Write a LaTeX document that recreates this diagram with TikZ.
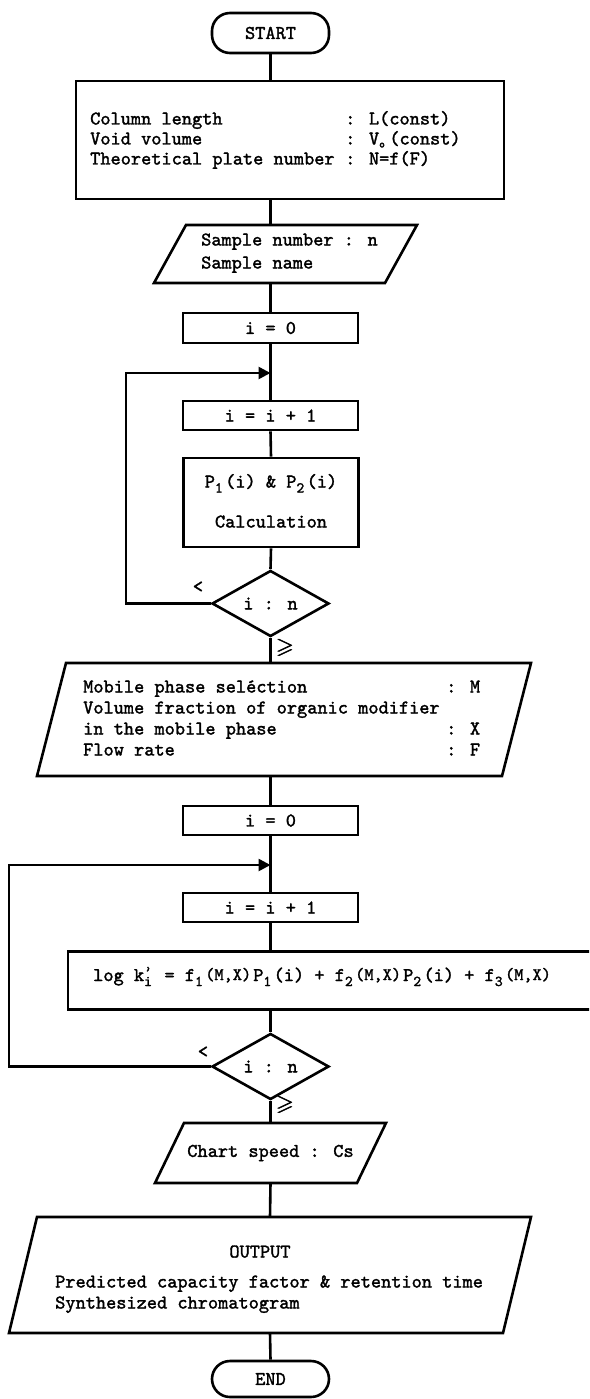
\documentclass[tikz,border=0pt]{standalone}
\usepackage{amssymb}
\usepackage{fontspec}
\newfontfamily\cour{lmmono10-regular}[Extension=.otf, FakeBold=1.6]
\usetikzlibrary{shapes.geometric,arrows.meta}
\newcommand\fsz{\cour\fontsize{19.4}{23}\selectfont}
\newcommand\sbs[1]{\makebox[10.2pt][l]{\raisebox{-5pt}{\fontsize{15}{15}\selectfont #1}}}
\newcommand\smp[1]{\makebox[48pt][l]{\fontsize{17.5}{15}\selectfont\raisebox{1pt}{#1}}}
\newcommand\kpi{\makebox[10.2pt][l]{\rlap{\raisebox{5pt}{\fontsize{15}{15}\selectfont ’}}\raisebox{-5pt}{\fontsize{15}{15}\selectfont i}}}
\newcommand\Vo{V\makebox[10.2pt][l]{\raisebox{-3pt}{\fontsize{11}{11}\selectfont o}}}
\newcommand\gs{\scalebox{1.15}{\rlap{$\geqslant$}\hspace{0.6pt}\rlap{$\geqslant$}\hspace{0.6pt}$\geqslant$}}
\newcommand\paral[2]{\draw[shp] ([xshift=#2]#1.north west) -- (#1.north east) -- ([xshift=-#2]#1.south east) -- (#1.south west) -- cycle;}
\tikzset{
  shp/.style={draw, line width=2.6pt, line join=miter},
  boxn/.style={draw, line width=2.6pt, rectangle, inner sep=0pt, font=\fsz},
  term/.style={boxn, rounded corners=18pt},
  dec/.style={draw, line width=2.6pt, diamond, inner sep=0pt, font=\fsz},
  frame/.style={inner sep=0pt, outer sep=0pt, draw=none, rectangle, font=\fsz},
  txt/.style={inner sep=0pt, anchor=base west, font=\fsz},
  ctxt/.style={inner sep=0pt, anchor=base, font=\fsz},
  lab/.style={inner sep=0pt, font=\fsz},
  conn/.style={line width=2.6pt},
  loopar/.style={line width=2.6pt, line join=miter, -{Triangle[length=12pt,width=12pt]}}
}
\begin{document}
\begin{tikzpicture}[x=1pt,y=-1pt]
\useasboundingbox (0,0) rectangle (589,1399);
\clip (0,0) rectangle (589,1399);
\fill[white] (0,0) rectangle (589,1399);

% START
\node[term, minimum width=117pt, minimum height=40pt] (start) at (270.5,33) {START};

% parameters box
\node[boxn, minimum width=428pt, minimum height=118pt] (b1) at (290,140) {};
\node[txt] (t1a) at (90,124.5) {Column length};
\node[txt] (t1b) at (345,124.5) {: L(const)};
\node[txt] (t2a) at (90,144.5) {Void volume};
\node[txt] (t2b) at (345,144.5) {: \Vo(const)};
\node[txt] (t3a) at (90,164.5) {Theoretical plate number};
\node[txt] (t3b) at (345,164.5) {: N=f(F)};

% sample input
\node[frame, minimum width=263pt, minimum height=58pt] (p1) at (285.5,254) {};
\paral{p1}{32pt}
\node[txt] (s1) at (201,245.5) {Sample number : n};
\node[txt] (s2) at (201,268.5) {Sample name};

% first loop
\node[boxn, minimum width=175pt, minimum height=30pt] (i0a) at (270.5,328) {i = 0};
\node[boxn, minimum width=175pt, minimum height=29pt] (inc1) at (270.5,415.5) {i = i + 1};
\node[boxn, minimum width=175pt, minimum height=89pt] (pc) at (271,502.5) {};
\node[ctxt] (pc1) at (271,487.5) {P\sbs{1}(i) \& P\sbs{2}(i)};
\node[ctxt] (pc2) at (271,527.5) {Calculation};
\node[dec, minimum width=117pt, minimum height=58pt] (d1) at (270.5,603.5) {i : n};
\node[lab] (lt1) at (198,587) {<};
\node[lab] (ge1) at (285,648) {\gs};
\coordinate (m1) at (270.5,373);
\coordinate (c1) at (126,373);

% mobile phase input
\node[frame, minimum width=494pt, minimum height=113pt] (mob) at (284,719.5) {};
\paral{mob}{29pt}
\node[txt] (m1a) at (83,692.5) {Mobile phase seléction};
\node[txt] (m1b) at (446,692.5) {: M};
\node[txt] (m2a) at (83,713.5) {Volume fraction of organic modifier};
\node[txt] (m3a) at (83,734.5) {in the mobile phase};
\node[txt] (m3b) at (446,734.5) {: X};
\node[txt] (m4a) at (83,755.5) {Flow rate};
\node[txt] (m4b) at (446,755.5) {: F};

% second loop
\node[boxn, minimum width=175pt, minimum height=29pt] (i0b) at (270.5,820.5) {i = 0};
\node[boxn, minimum width=175pt, minimum height=29pt] (inc2) at (270.5,907.5) {i = i + 1};
\node[boxn, minimum width=532pt, minimum height=58pt] (lg) at (334,980.5) {};
\node[txt] (lgt) at (93,981) {log k\kpi{} = f\sbs{1}\smp{(M,X)}P\sbs{1}(i) + f\sbs{2}\smp{(M,X)}P\sbs{2}(i) + f\sbs{3}\smp{(M,X)}};
\node[dec, minimum width=117pt, minimum height=59pt] (d2) at (270.5,1066.5) {i : n};
\node[lab] (lt2) at (203,1052) {<};
\node[lab] (ge2) at (285,1105) {\gs};
\coordinate (m2) at (270.5,865);
\coordinate (c2) at (9,865);

% chart speed
\node[frame, minimum width=231pt, minimum height=60pt] (chart) at (270.5,1153) {Chart speed : Cs};
\paral{chart}{29pt}

% output
\node[frame, minimum width=522pt, minimum height=116pt] (out) at (270,1275) {};
\paral{out}{28pt}
\node[ctxt] (o1) at (260,1257.5) {OUTPUT};
\node[txt] (o2) at (55,1287.5) {Predicted capacity factor \& retention time};
\node[txt] (o3) at (55,1308.5) {Synthesized chromatogram};

% END
\node[term, minimum width=117pt, minimum height=36pt] (end) at (270.5,1379) {END};

% connectors
\draw[conn] (start.south) -- (start.south |- b1.north);
\draw[conn] (start.south |- b1.south) -- (start.south |- p1.north);
\draw[conn] (start.south |- p1.south) -- (i0a.north);
\draw[conn] (i0a.south) -- (inc1.north);
\draw[conn] (inc1.south) -- (pc.north);
\draw[conn] (pc.south) -- (d1.north);
\draw[conn] (d1.south) -- (d1.south |- mob.north);
\draw[conn] (d1.south |- mob.south) -- (i0b.north);
\draw[conn] (i0b.south) -- (inc2.north);
\draw[conn] (inc2.south) -- (inc2.south |- lg.north);
\draw[conn] (inc2.south |- lg.south) -- (d2.north);
\draw[conn] (d2.south) -- (chart.north);
\draw[conn] (chart.south) -- (out.north);
\draw[conn] (out.south) -- (end.north);
\draw[loopar] (d1.west) -- (d1.west -| c1) -- (c1) -- (m1);
\draw[loopar] (d2.west) -- (d2.west -| c2) -- (c2) -- (m2);
\end{tikzpicture}
\end{document}
